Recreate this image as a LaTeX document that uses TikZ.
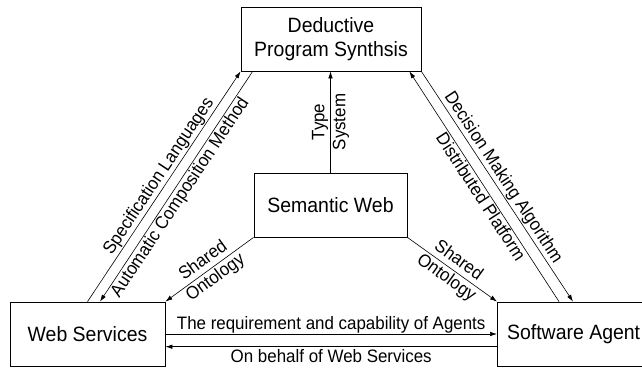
\documentclass[tikz,border=0pt]{standalone}
\usepackage{fontspec}
\setmainfont{Liberation Sans}[FakeStretch=0.94]
\usetikzlibrary{arrows.meta,calc}
\begin{document}
\begin{tikzpicture}[x=1pt,y=-1pt,
  box/.style={draw,line width=0.8pt,minimum height=64pt,inner sep=0pt,align=center,
    font=\fontsize{20.7}{24}\selectfont},
  link/.style={line width=0.6pt,-{Latex[length=7pt,width=4.5pt]}},
  linkback/.style={line width=0.6pt,{Latex[length=7pt,width=4.5pt]}-},
  lbl/.style={font=\fontsize{18}{21}\selectfont,inner sep=1pt}]
\useasboundingbox (0,0) rectangle (642,370);
\clip (0,0) rectangle (642,370);

% boxes
\node[box,minimum width=180pt] (dps) at (331,39) {Deductive\\Program Synthsis};
\node[box,minimum width=153pt] (sw) at (330.5,205) {Semantic Web};
\node[box,minimum width=155pt] (ws) at (87.5,334) {Web Services};
\node[box,anchor=west,inner xsep=9.7pt] (sa) at (497,334) {Software Agent};

% Web Services <-> Deductive Program Synthesis
\draw[link] (ws.north) -- node[lbl,pos=0.52,above,sloped]{Specification Languages} (dps.south west);
\draw[linkback] ($(ws.north)+(12.5,0)$) -- node[lbl,pos=0.475,below,sloped]{Automatic Composition Method} ($(dps.south west)+(12,0)$);

% Deductive Program Synthesis <-> Software Agent
\draw[link] (dps.south east) -- node[lbl,pos=0.485,above,sloped]{Decision Making Algorithm} ($(sa.north west)+(76,0)$);
\draw[linkback] ($(dps.south east)+(-12,0)$) -- node[lbl,pos=0.525,below,sloped]{Distributed Platform} ($(sa.north west)+(62,0)$);

% Semantic Web links
\draw[link] (sw.north) -- node[lbl,rotate=90,align=center]{Type\\System} (sw.north |- dps.south);
\draw[linkback] (ws.north east) -- node[lbl,sloped,align=center]{Shared\\Ontology} (sw.south west);
\draw[link] (sw.south east) -- node[lbl,sloped,align=center]{Shared\\Ontology} (sa.north west);

% Web Services <-> Software Agent
\draw[link] (ws.east) -- node[lbl,above,inner sep=0.5pt]{The requirement and capability of Agents} (sa.west);
\draw[linkback] ($(ws.east)+(0,12.7)$) -- node[lbl,below,inner sep=2pt]{On behalf of Web Services} ($(sa.west)+(0,12.7)$);
\end{tikzpicture}
\end{document}
